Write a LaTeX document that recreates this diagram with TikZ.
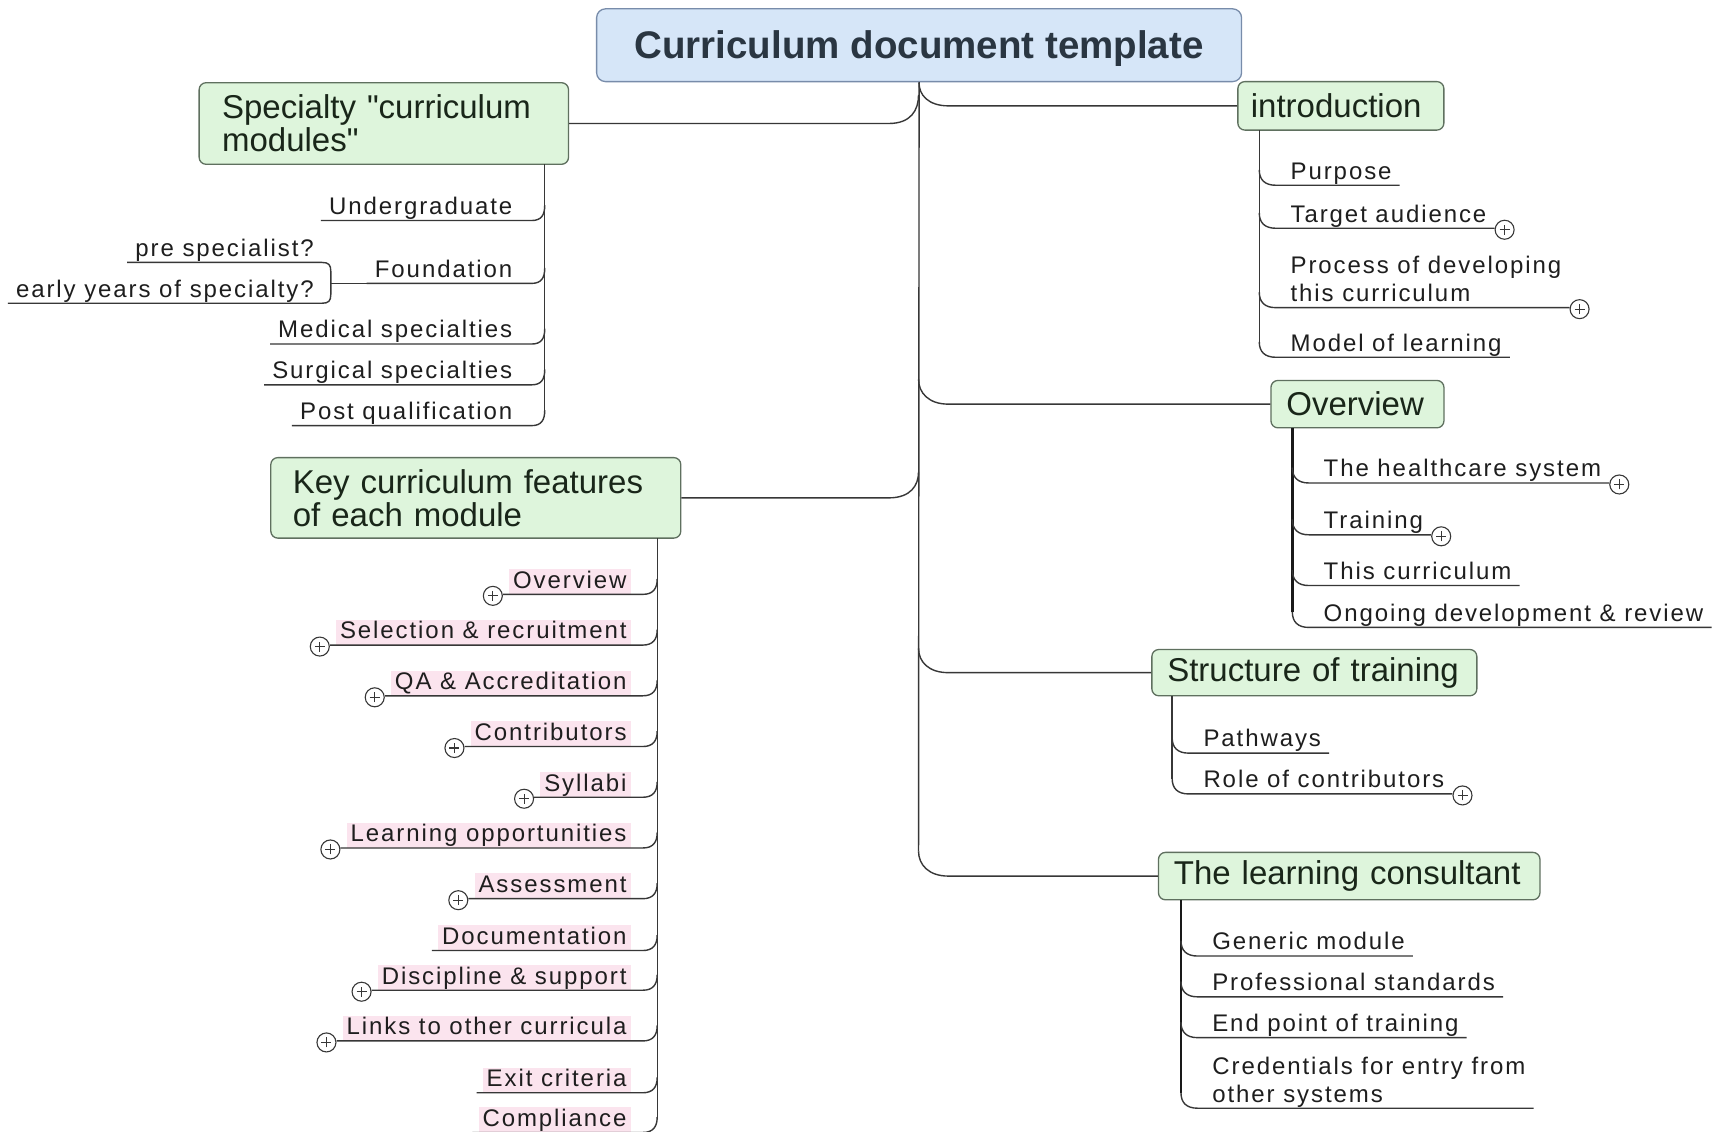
\documentclass[tikz,border=0pt]{standalone}
\usepackage{fontspec}
\setmainfont{Liberation Sans}
\newfontfamily\leaffont[LetterSpace=8]{Liberation Sans}
\newfontfamily\topicfont[Ligatures=TeXOff]{Liberation Sans}
\usetikzlibrary{calc}
\definecolor{boxgreen}{RGB}{222,245,220}
\definecolor{boxline}{RGB}{95,112,95}
\definecolor{rootblue}{RGB}{214,230,248}
\definecolor{rootline}{RGB}{120,140,170}
\definecolor{roottxt}{RGB}{42,54,66}
\definecolor{pinkbg}{RGB}{251,228,238}
\definecolor{linec}{RGB}{55,55,55}
\definecolor{linedark}{RGB}{25,25,25}
\definecolor{boxtxt}{RGB}{25,38,25}
\definecolor{leaftxt}{RGB}{30,30,30}
% right-side child: underline + curve into trunk
\newcommand\rconn[1]{\draw[conn] (#1.south east) -- (#1.south west) -- ++(-6,0) .. controls +(-10,0) and +(0,9) .. ++(-15,-14);}
\newcommand\lconn[1]{\draw[conn] (#1.south west) -- (#1.south east) -- ++(10,0) .. controls +(9,0) and +(0,9) .. ++(12,-14);}
\newcommand\kconn[1]{\draw[conn] ([xshift=-6pt]#1.south west) -- (#1.south east) -- ++(11,0) .. controls +(9,0) and +(0,9) .. ++(13,-14);}
\begin{document}
\begin{tikzpicture}[x=1.1027pt,y=-1.1027pt,
  conn/.style={draw=linec,line width=1.4pt},
  trunkthick/.style={draw=linedark,line width=2.8pt},
  rootbox/.style={draw=rootline,fill=rootblue,rounded corners=9pt,line width=1.3pt,
     minimum width=645pt,minimum height=72.8pt,font=\fontsize{38.5}{40}\selectfont\bfseries,text=roottxt,
     text height=27.5pt,text depth=0pt},
  topic/.style={draw=boxline,fill=boxgreen,rounded corners=7pt,line width=1.3pt,
     font=\topicfont\fontsize{33}{33}\selectfont,text=boxtxt,align=left,anchor=west,inner ysep=0pt},
  leaf/.style={font=\leaffont\fontsize{24}{27.6}\selectfont,text=leaftxt,inner xsep=8pt,inner ysep=1pt,align=left,text depth=5pt},
  rleaf/.style={leaf,anchor=south west},
  lleaf/.style={leaf,anchor=south east},
  kleaf/.style={font=\leaffont\fontsize{24}{27.6}\selectfont,text=leaftxt,fill=pinkbg,inner xsep=4pt,
     inner ysep=1pt,text height=18pt,text depth=5pt,anchor=south east},
  plusc/.style={circle,draw=linec,line width=1.1pt,fill=white,minimum size=19pt,inner sep=0pt,
     path picture={\draw[linec,line width=1.1pt]
       ([xshift=-5pt]path picture bounding box.center) -- ([xshift=5pt]path picture bounding box.center)
       ([yshift=-5pt]path picture bounding box.center) -- ([yshift=5pt]path picture bounding box.center);}},
]
\fill[white] (0,0) rectangle (1568,1026);
\useasboundingbox (0,0) rectangle (1568,1026);

% ---------------- main topics ----------------
\node[rootbox] (root) at (833.5,41) {Curriculum document template};
\node[topic,minimum width=369.4pt,minimum height=81.6pt,inner xsep=23pt,text width=323.4pt] (spec) at (180,112) {Specialty "curriculum\\modules"};
\node[topic,minimum width=206pt,minimum height=48.5pt,inner xsep=13pt,text width=180pt] (intro) at (1122,96) {introduction};
\node[topic,minimum width=173pt,minimum height=47.4pt,inner xsep=15.4pt,text width=142.2pt] (over) at (1152,366.5) {Overview};
\node[topic,minimum width=410pt,minimum height=80.5pt,inner xsep=22pt,text width=366pt] (key) at (245,451.5) {Key curriculum features\\of each module};
\node[topic,minimum width=325pt,minimum height=46.3pt,inner xsep=15.4pt,text width=294.2pt] (struct) at (1044,610) {Structure of training};
\node[topic,minimum width=381.5pt,minimum height=47.4pt,inner xsep=15.4pt,text width=350.7pt] (learn) at (1050,794.5) {The learning consultant};

% main trunk and branches
\draw[conn] (root.south) -- (833,772);
\draw[conn] (intro.west) -- (860,96) .. controls (842,96) and (833,86) .. (root.south);
\draw[conn] (spec.east) -- (806,112) .. controls (826,112) and (833,100) .. (833,86);
\draw[conn] (over.west) -- (860,366.5) .. controls (842,366.5) and (833,356) .. (833,344);
\draw[conn] (key.east) -- (806,451.5) .. controls (826,451.5) and (833,440) .. (833,428);
\draw[conn] (struct.west) -- (860,610) .. controls (842,610) and (833,600) .. (833,588);
\draw[conn] (learn.west) -- (860,794.5) .. controls (842,794.5) and (833,784) .. (833,772);

% ---------------- introduction ----------------
\draw[conn] (1142,118) -- (1142,310);
\node[rleaf] (ip) at (1163,168) {Purpose};
\node[rleaf] (ita) at (1163,207) {Target audience};
\node[rleaf,text depth=] (ipr) at (1163,279) {Process of developing\\this curriculum\rule[-5pt]{0pt}{5pt}};
\node[rleaf] (iml) at (1163,324) {Model of learning};
\foreach \n in {ip,ita,ipr,iml} {\rconn{\n}}
\node[plusc,anchor=west] (itap) at ([yshift=-1.5pt]ita.south east) {};
\node[plusc,anchor=west] (iprp) at ([yshift=-1.5pt]ipr.south east) {};

% ---------------- overview ----------------
\draw[trunkthick] (1172,388) -- (1172,555);
\node[rleaf] (ohs) at (1193,438) {The healthcare system};
\node[rleaf] (otr) at (1193,485) {Training};
\node[rleaf] (otc) at (1193,531) {This curriculum};
\node[rleaf] (oog) at (1193,569) {Ongoing development \& review};
\foreach \n in {ohs,otr,otc,oog} {\rconn{\n}}
\node[plusc,anchor=west] (ohsp) at ([yshift=-1.5pt]ohs.south east) {};
\node[plusc,anchor=west] (otrp) at ([yshift=-1.5pt]otr.south east) {};

% ---------------- structure of training ----------------
\draw[conn] (1063,631) -- (1063,706);
\node[rleaf] (spw) at (1084,683) {Pathways};
\node[rleaf] (src) at (1084,720) {Role of contributors};
\foreach \n in {spw,src} {\rconn{\n}}
\node[plusc,anchor=west] (srcp) at ([yshift=-1.5pt]src.south east) {};

% ---------------- learning consultant ----------------
\draw[trunkthick] (1071,816) -- (1071,991);
\node[rleaf] (lgm) at (1092,867) {Generic module};
\node[rleaf] (lps) at (1092,904) {Professional standards};
\node[rleaf] (lep) at (1092,941) {End point of training};
\node[rleaf,text depth=] (lcr) at (1092,1005) {Credentials for entry from\\other systems\rule[-5pt]{0pt}{5pt}};
\foreach \n in {lgm,lps,lep,lcr} {\rconn{\n}}

% ---------------- specialty modules ----------------
\draw[conn] (494,149) -- (494,372);
\node[lleaf] (su) at (472,200) {Undergraduate};
\node[lleaf] (sf) at (472,257) {Foundation};
\node[lleaf] (sm) at (472,312) {Medical specialties};
\node[lleaf] (ss) at (472,349) {Surgical specialties};
\node[lleaf] (sp) at (472,386) {Post qualification};
\foreach \n in {su,sf,sm,ss,sp} {\lconn{\n}}
\node[lleaf] (fps) at (292,238) {pre specialist?};
\node[lleaf] (fey) at (292,275) {early years of specialty?};
\draw[conn] (fps.south west) -- (fps.south east) .. controls +(6,0) and +(0,-6) .. (300,246)
   -- (300,267) .. controls +(0,6) and +(6,0) .. (fey.south east) -- (fey.south west);
\draw[conn] (sf.south west) -- (300,257);

% ---------------- key curriculum features ----------------
\draw[conn] (596,488) -- (596,1013);
\node[kleaf] (kov) at (572,539) {Overview};
\node[kleaf] (ksr) at (572,585) {Selection \& recruitment};
\node[kleaf] (kqa) at (572,631) {QA \& Accreditation};
\node[kleaf] (kco) at (572,677) {Contributors};
\node[kleaf] (ksy) at (572,723) {Syllabi};
\node[kleaf] (klo) at (572,769) {Learning opportunities};
\node[kleaf] (kas) at (572,815) {Assessment};
\node[kleaf] (kdo) at (572,862) {Documentation};
\node[kleaf] (kds) at (572,898) {Discipline \& support};
\node[kleaf] (klk) at (572,944) {Links to other curricula};
\node[kleaf] (kex) at (572,991) {Exit criteria};
\node[kleaf] (kcm) at (572,1027) {Compliance};
\foreach \n in {kov,ksr,kqa,kco,ksy,klo,kas,kdo,kds,klk,kex,kcm} {\kconn{\n}}
\foreach \n in {kov,ksr,kqa,kco,ksy,klo,kas,kds,klk}
  {\node[plusc,anchor=east] (\n p) at ([xshift=-6pt,yshift=-1.5pt]\n.south west) {};}
\end{tikzpicture}
\end{document}
